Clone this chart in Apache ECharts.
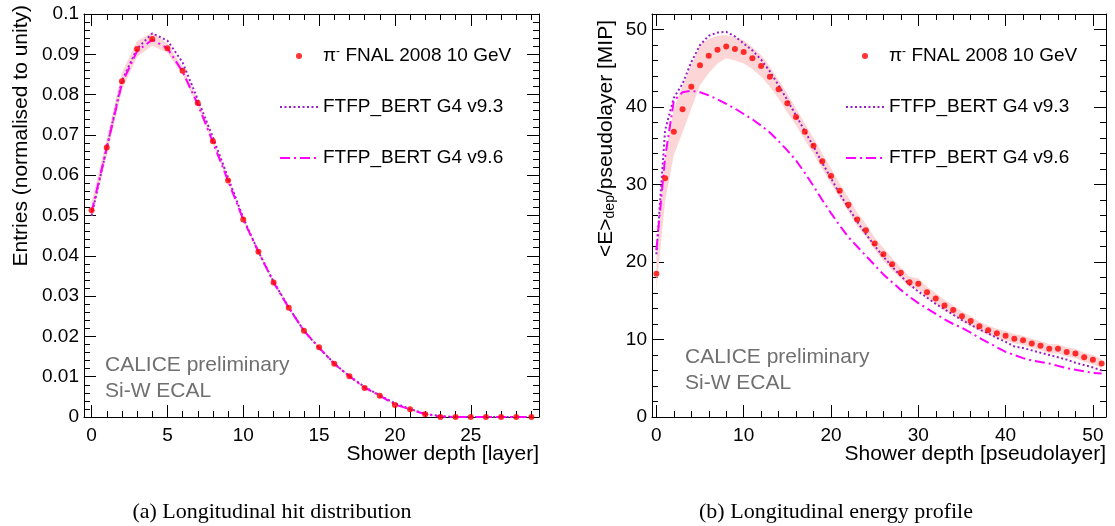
<!DOCTYPE html>
<html><head><meta charset="utf-8">
<script src="https://cdn.jsdelivr.net/npm/echarts@6/dist/echarts.min.js"></script>
<style>html,body{margin:0;padding:0;background:#fff}#c{width:1115px;height:526px}</style>
</head><body><div id="c"></div>
<script>
// ---------- data: (a) longitudinal hit distribution ----------
const layersA = [0,1,2,3,4,5,6,7,8,9,10,11,12,13,14,15,16,17,18,19,20,21,22,23,24,25,26,27,28,29];
const dataA = [0.0513,0.0669,0.0833,0.0913,0.0938,0.0915,0.0859,0.0779,0.0684,0.0587,0.0490,0.0410,0.0334,0.0271,0.0214,0.0173,0.0132,0.0101,0.0072,0.0053,0.0030,0.0019,0.0007,0,0,0,0,0,0,0];
const errA = [0.0020,0.0022,0.0022,0.0020,0.0016,0.0012,0.0010,0.0008,0.0007,0.0006,0.0005,0.0005,0.0004,0.0004,0.0004,0.0003,0.0003,0.0003,0.0003,0.0002,0.0002,0.0002,0.0001,0.0001,0,0,0,0,0,0];
const g493A = [0.0500,0.0668,0.0834,0.0914,0.0952,0.0934,0.0880,0.0788,0.0694,0.0594,0.0494,0.0410,0.0336,0.0272,0.0214,0.0171,0.0133,0.0101,0.0075,0.0054,0.0034,0.0020,0.0008,0.0002,0,0,0,0,0,0];
const g496A = [0.0508,0.0668,0.0828,0.0908,0.0936,0.0915,0.0857,0.0776,0.0682,0.0586,0.0490,0.0410,0.0334,0.0271,0.0214,0.0172,0.0132,0.0101,0.0073,0.0053,0.0031,0.0019,0.0007,0.0001,0,0,0,0,0,0];
const xMajorA = [0,5,10,15,20,25];
const xMinorA = [1,2,3,4,6,7,8,9,11,12,13,14,16,17,18,19,21,22,23,24,26,27,28,29];
const yMajorA = [0,0.01,0.02,0.03,0.04,0.05,0.06,0.07,0.08,0.09,0.1];
const yMinorA = [0.002,0.004,0.006,0.008,0.012,0.014,0.016,0.018,0.022,0.024,0.026,0.028,0.032,0.034,0.036,0.038,0.042,0.044,0.046,0.048,0.052,0.054,0.056,0.058,0.062,0.064,0.066,0.068,0.072,0.074,0.076,0.078,0.082,0.084,0.086,0.088,0.092,0.094,0.096,0.098];

// ---------- data: (b) longitudinal energy profile ----------
const layersB = [0,1,2,3,4,5,6,7,8,9,10,11,12,13,14,15,16,17,18,19,20,21,22,23,24,25,26,27,28,29,30,31,32,33,34,35,36,37,38,39,40,41,42,43,44,45,46,47,48,49,50,51];
const dataB = [18.5,30.8,36.8,39.7,42.6,45.4,46.6,47.4,47.8,47.5,47.1,46.3,45.3,43.9,42.3,40.5,38.7,36.8,35.0,33.0,31.1,29.2,27.4,25.5,24.1,22.4,21.0,19.7,18.6,17.4,17.2,16.1,15.3,14.4,13.8,13.0,12.4,11.7,11.2,10.8,10.5,10.1,9.9,9.5,9.2,8.8,8.8,8.4,8.2,7.7,7.4,6.9];
const errB = [2.0,3.0,3.0,3.0,2.8,2.6,2.2,1.8,1.5,1.5,1.5,1.4,1.4,1.3,1.2,1.2,1.1,1.1,1.0,1.0,1.0,0.9,0.9,0.9,0.8,0.8,0.8,0.8,0.7,0.7,0.7,0.7,0.7,0.7,0.6,0.6,0.6,0.6,0.6,0.6,0.6,0.6,0.6,0.6,0.6,0.6,0.6,0.6,0.6,0.6,0.6,0.6];
const g493B = [21.0,37.0,41.2,43.0,45.8,48.0,49.2,49.6,49.7,49.1,48.2,47.3,46.1,44.6,42.8,40.9,38.9,36.9,34.9,32.8,30.8,28.8,27.0,25.2,23.6,22.1,20.7,19.4,18.2,17.1,16.2,15.4,14.6,13.9,13.2,12.5,11.9,11.3,10.8,10.2,9.7,9.1,8.9,8.6,8.3,8.0,7.7,7.4,7.0,6.7,6.4,6.0];
const g496B = [21.5,33.5,40.8,41.9,42.1,41.9,41.5,41.0,40.4,39.8,39.1,38.4,37.6,36.7,35.6,34.4,33.1,31.5,29.8,28.0,26.3,24.7,23.2,22.0,20.8,19.6,18.4,17.4,16.4,15.5,14.7,14.0,13.3,12.6,12.0,11.5,10.9,10.2,9.6,9.0,8.4,8.0,7.6,7.3,7.1,6.9,6.6,6.3,6.1,5.9,5.7,5.6];
const xMajorB = [0,10,20,30,40,50];
const xMinorB = [2,4,6,8,12,14,16,18,22,24,26,28,32,34,36,38,42,44,46,48];
const yMajorB = [0,10,20,30,40,50];
const yMinorB = [2,4,6,8,12,14,16,18,22,24,26,28,32,34,36,38,42,44,46,48];

const seriesNames = ['π⁻ FNAL 2008 10 GeV', 'FTFP_BERT G4 v9.3', 'FTFP_BERT G4 v9.6'];
const captions = ['(a) Longitudinal hit distribution', '(b) Longitudinal energy profile'];
const stamp = 'CALICE preliminary\nSi-W ECAL';

// ---------- styling ----------
const SANS = '"Liberation Sans", Arial, Helvetica, sans-serif';
const SERIF = '"Liberation Serif", "Times New Roman", serif';
const RED = '#ff0000', VIOLET = '#9a1fc2', MAGENTA = '#ff00ff', BAND = '#fcd6d6';
const DOT = [2, 2.5], DASHDOT = [10, 4, 2, 4];

function xAxes(grid, min, max, majors, minors, title) {
  const base = {type: 'value', gridIndex: grid, min: min, max: max, splitLine: {show: false}, axisPointer: {show: false}};
  const line = {show: true, onZero: false, lineStyle: {color: '#000', width: 1}};
  const noLine = {show: false, onZero: false};
  const tick = (vals, len) => ({show: true, inside: true, length: len, customValues: vals, lineStyle: {color: '#000', width: 1}});
  return [
    Object.assign({}, base, {position: 'bottom', axisLine: line, axisTick: tick(majors, 12),
      axisLabel: {show: true, customValues: majors, margin: 9, fontSize: 19, color: '#000', fontFamily: SANS},
      name: title, nameLocation: 'end', nameGap: 0, nameMoveOverlap: false,
      nameTextStyle: {fontSize: 21, color: '#000', fontFamily: SANS, align: 'right', verticalAlign: 'top', padding: [27, 0, 0, 0]}}),
    Object.assign({}, base, {position: 'bottom', axisLine: noLine, axisTick: tick(minors, 6), axisLabel: {show: false}}),
    Object.assign({}, base, {position: 'top', axisLine: line, axisTick: tick(majors, 12), axisLabel: {show: false}}),
    Object.assign({}, base, {position: 'top', axisLine: noLine, axisTick: tick(minors, 6), axisLabel: {show: false}})
  ];
}
function yAxes(grid, min, max, majors, minors, title, nameGap, namePad, rich, labMargin) {
  const base = {type: 'value', gridIndex: grid, min: min, max: max, splitLine: {show: false}, axisPointer: {show: false}};
  const line = {show: true, onZero: false, lineStyle: {color: '#000', width: 1}};
  const noLine = {show: false, onZero: false};
  const tick = (vals, len) => ({show: true, inside: true, length: len, customValues: vals, lineStyle: {color: '#000', width: 1}});
  return [
    Object.assign({}, base, {position: 'left', axisLine: line, axisTick: tick(majors, 12),
      axisLabel: {show: true, customValues: majors, margin: labMargin, fontSize: 19, color: '#000', fontFamily: SANS},
      name: title, nameLocation: 'end', nameGap: nameGap, nameRotate: 90, nameMoveOverlap: false,
      nameTextStyle: {fontSize: 21, color: '#000', fontFamily: SANS, align: 'right', verticalAlign: 'bottom', padding: [0, 0, namePad, 0], rich: rich}}),
    Object.assign({}, base, {position: 'left', axisLine: noLine, axisTick: tick(minors, 6), axisLabel: {show: false}}),
    Object.assign({}, base, {position: 'right', axisLine: line, axisTick: tick(majors, 12), axisLabel: {show: false}}),
    Object.assign({}, base, {position: 'right', axisLine: noLine, axisTick: tick(minors, 6), axisLabel: {show: false}})
  ];
}

function pairs(xs, ys) { return xs.map((x, i) => [x, ys[i]]); }

function plotSeries(xi, yi, xs, vals, errs, g93, g96) {
  return [
    {type: 'custom', coordinateSystem: 'cartesian2d', xAxisIndex: xi, yAxisIndex: yi, silent: true, z: 1, clip: true,
      data: [[xs[0], vals[0]]],
      renderItem: function (params, api) {
        const upper = xs.map((x, i) => api.coord([x, vals[i] + errs[i]]));
        const lower = xs.map((x, i) => api.coord([x, Math.max(0, vals[i] - errs[i])])).reverse();
        return {type: 'polygon', shape: {points: upper.concat(lower)}, style: {fill: BAND, stroke: null}};
      }},
    {type: 'line', name: seriesNames[1], xAxisIndex: xi, yAxisIndex: yi, symbol: 'none', silent: true, z: 3,
      lineStyle: {color: VIOLET, width: 2, type: DOT}, itemStyle: {color: VIOLET}, data: pairs(xs, g93)},
    {type: 'line', name: seriesNames[2], xAxisIndex: xi, yAxisIndex: yi, symbol: 'none', silent: true, z: 3,
      lineStyle: {color: MAGENTA, width: 2, type: DASHDOT}, itemStyle: {color: MAGENTA}, data: pairs(xs, g96)},
    {type: 'scatter', name: seriesNames[0], xAxisIndex: xi, yAxisIndex: yi, symbol: 'circle', symbolSize: 6, silent: true, z: 5,
      itemStyle: {color: RED}, data: pairs(xs, vals)}
  ];
}

function legendFor(left) {
  return {
    show: true, left: left, top: 46, orient: 'vertical', itemWidth: 38, itemHeight: 6, itemGap: 31,
    selectedMode: false, padding: 0,
    textStyle: {fontSize: 19, color: '#000', fontFamily: SANS, lineHeight: 20,
      rich: {pi: {fontSize: 19, fontFamily: SANS, color: '#000'}, sup: {fontSize: 12, fontFamily: SANS, color: '#000', verticalAlign: 'top', lineHeight: 14}}},
    formatter: n => n.indexOf('π') === 0 ? '{pi|π}{sup|-}' + n.slice(2) : n,
    data: [
      {name: seriesNames[0], icon: 'circle', itemStyle: {color: RED}},
      {name: seriesNames[1], itemStyle: {opacity: 0}, lineStyle: {color: VIOLET, width: 2, type: DOT}},
      {name: seriesNames[2], itemStyle: {opacity: 0}, lineStyle: {color: MAGENTA, width: 2, type: DASHDOT}}
    ]
  };
}

const chart = echarts.init(document.getElementById('c'), null, {renderer: 'canvas'});
chart.setOption({
  animation: false,
  backgroundColor: '#fff',
  grid: [
    {left: 84, top: 14, width: 455, height: 403, containLabel: false, outerBoundsMode: 'none'},
    {left: 652, top: 14, width: 454, height: 403, containLabel: false, outerBoundsMode: 'none'}
  ],
  xAxis: [].concat(
    xAxes(0, -0.5, 29.5, xMajorA, xMinorA, 'Shower depth [layer]'),
    xAxes(1, -0.5, 51.5, xMajorB, xMinorB, 'Shower depth [pseudolayer]')
  ),
  yAxis: [].concat(
    yAxes(0, 0, 0.1, yMajorA, yMinorA, 'Entries (normalised to unity)', 9, 52, {}, 5),
    yAxes(1, 0, 52, yMajorB, yMinorB, '<E>{sub|dep}/pseudolayer [MIP]', -6, 35,
      {sub: {fontSize: 14, fontFamily: SANS, color: '#000', verticalAlign: 'bottom'}}, 5)
  ),
  legend: [legendFor(279), legendFor(845)],
  series: [].concat(
    plotSeries(0, 0, layersA, dataA, errA, g493A, g496A),
    plotSeries(4, 4, layersB, dataB, errB, g493B, g496B)
  ),
  graphic: [
    {type: 'text', x: 105, y: 352, silent: true, style: {text: stamp, font: '21px ' + SANS, fill: '#707070', lineHeight: 26, verticalAlign: 'top'}},
    {type: 'text', x: 685, y: 344, silent: true, style: {text: stamp, font: '21px ' + SANS, fill: '#707070', lineHeight: 26, verticalAlign: 'top'}},
    {type: 'text', x: 272, y: 512, silent: true, style: {text: captions[0], font: '22px ' + SERIF, fill: '#000', align: 'center', verticalAlign: 'middle'}},
    {type: 'text', x: 836, y: 512, silent: true, style: {text: captions[1], font: '22px ' + SERIF, fill: '#000', align: 'center', verticalAlign: 'middle'}}
  ]
});
</script>
</body></html>
